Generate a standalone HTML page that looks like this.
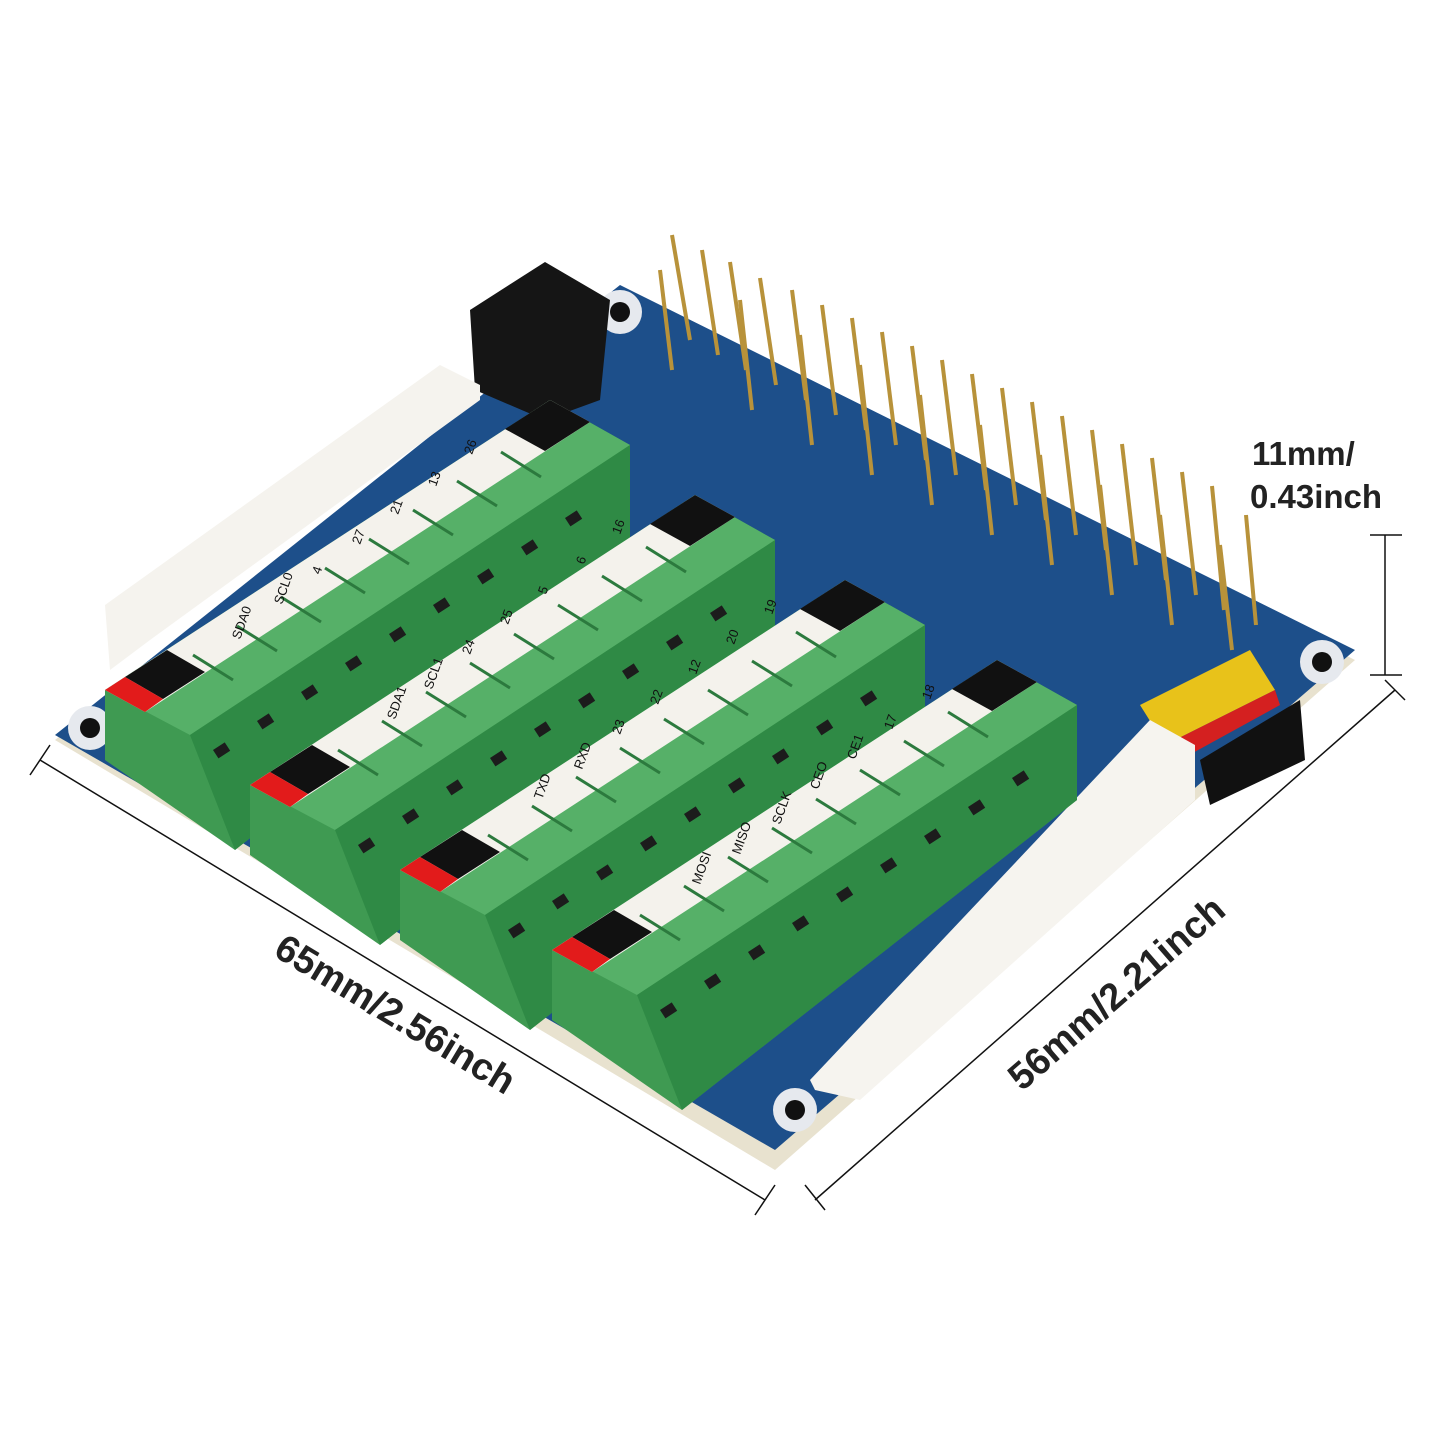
<!DOCTYPE html>
<html><head><meta charset="utf-8"><style>
html,body{margin:0;padding:0;background:#fff;}
svg{display:block;font-family:"Liberation Sans",Arial,sans-serif;}
</style></head><body>
<svg width="1445" height="1445" viewBox="0 0 1445 1445" xmlns="http://www.w3.org/2000/svg">
<defs>
<g id="strip">
  <polygon points="0,0 445,-290 525,-245 525,-150 130,160 0,70" fill="#3f9a52"/>
  <polygon points="0,0 445,-290 525,-245 85,45" fill="#56b068"/>
  <polygon points="0,0 445,-290 485,-268 40,22" fill="#f4f2ec"/>
  <polygon points="85,45 525,-245 525,-150 130,160" fill="#2f8a45"/>
  <g stroke="#2c7a3e" stroke-width="3">
    <line x1="88" y1="-35" x2="128" y2="-10"/><line x1="132" y1="-64" x2="172" y2="-39"/>
    <line x1="176" y1="-93" x2="216" y2="-68"/><line x1="220" y1="-122" x2="260" y2="-97"/>
    <line x1="264" y1="-151" x2="304" y2="-126"/><line x1="308" y1="-180" x2="348" y2="-155"/>
    <line x1="352" y1="-209" x2="392" y2="-184"/><line x1="396" y1="-238" x2="436" y2="-213"/>
  </g>
  <g fill="#1c1c1c">
    <rect x="108" y="60" width="14" height="10" transform="rotate(-33 108 60)"/>
    <rect x="152" y="31" width="14" height="10" transform="rotate(-33 152 31)"/>
    <rect x="196" y="2" width="14" height="10" transform="rotate(-33 196 2)"/>
    <rect x="240" y="-27" width="14" height="10" transform="rotate(-33 240 -27)"/>
    <rect x="284" y="-56" width="14" height="10" transform="rotate(-33 284 -56)"/>
    <rect x="328" y="-85" width="14" height="10" transform="rotate(-33 328 -85)"/>
    <rect x="372" y="-114" width="14" height="10" transform="rotate(-33 372 -114)"/>
    <rect x="416" y="-143" width="14" height="10" transform="rotate(-33 416 -143)"/>
    <rect x="460" y="-172" width="14" height="10" transform="rotate(-33 460 -172)"/>
  </g>
  <polygon points="400,-261 445,-290 485,-268 440,-239" fill="#111"/>
  <polygon points="20,-13 62,-40 100,-18 58,9" fill="#111"/>
  <polygon points="0,0 20,-13 58,9 40,22" fill="#e21b1b"/>
</g>
</defs>

<!-- board -->
<polygon points="55,740 620,290 1355,660 775,1170" fill="#e8e2cf"/>
<polygon points="55,735 620,285 1355,650 775,1150" fill="#1d4f8a"/>
<circle cx="620" cy="312" r="22" fill="#e6e9ee"/><circle cx="620" cy="312" r="10" fill="#111"/>
<circle cx="1322" cy="662" r="22" fill="#e6e9ee"/><circle cx="1322" cy="662" r="10" fill="#111"/>
<circle cx="90" cy="728" r="22" fill="#e6e9ee"/><circle cx="90" cy="728" r="10" fill="#111"/>
<circle cx="795" cy="1110" r="22" fill="#e6e9ee"/><circle cx="795" cy="1110" r="10" fill="#111"/>

<!-- header pins -->
<g stroke="#b8923a" stroke-width="4">
<line x1="672" y1="235" x2="690" y2="340"/><line x1="702" y1="250" x2="718" y2="355"/>
<line x1="730" y1="262" x2="746" y2="370"/><line x1="760" y1="278" x2="776" y2="385"/>
<line x1="792" y1="290" x2="806" y2="400"/><line x1="822" y1="305" x2="836" y2="415"/>
<line x1="852" y1="318" x2="866" y2="430"/><line x1="882" y1="332" x2="896" y2="445"/>
<line x1="912" y1="346" x2="926" y2="460"/><line x1="942" y1="360" x2="956" y2="475"/>
<line x1="972" y1="374" x2="986" y2="490"/><line x1="1002" y1="388" x2="1016" y2="505"/>
<line x1="1032" y1="402" x2="1046" y2="520"/><line x1="1062" y1="416" x2="1076" y2="535"/>
<line x1="1092" y1="430" x2="1106" y2="550"/><line x1="1122" y1="444" x2="1136" y2="565"/>
<line x1="1152" y1="458" x2="1166" y2="580"/><line x1="1182" y1="472" x2="1196" y2="595"/>
<line x1="1212" y1="486" x2="1224" y2="610"/><line x1="1246" y1="515" x2="1256" y2="625"/>
<line x1="660" y1="270" x2="672" y2="370"/><line x1="740" y1="300" x2="752" y2="410"/>
<line x1="800" y1="335" x2="812" y2="445"/><line x1="860" y1="365" x2="872" y2="475"/>
<line x1="920" y1="395" x2="932" y2="505"/><line x1="980" y1="425" x2="992" y2="535"/>
<line x1="1040" y1="455" x2="1052" y2="565"/><line x1="1100" y1="485" x2="1112" y2="595"/>
<line x1="1160" y1="515" x2="1172" y2="625"/><line x1="1220" y1="545" x2="1232" y2="650"/>
</g>
<!-- small pin header right -->
<polygon points="1140,705 1250,650 1275,690 1165,745" fill="#e8c21a"/>
<polygon points="1165,745 1275,690 1280,705 1180,760" fill="#d42020"/>
<polygon points="1200,760 1300,700 1305,760 1210,805" fill="#111"/>

<!-- black jumpers -->
<polygon points="470,310 545,262 610,300 600,400 545,420 475,390" fill="#151515"/>
<!-- left white connector -->
<polygon points="105,605 440,365 480,385 480,400 150,640 110,670" fill="#f5f3ee"/>
<!-- bottom right white connectors -->
<polygon points="810,1080 1150,720 1195,745 1195,800 860,1100 815,1090" fill="#f6f4ef"/>

<use href="#strip" transform="translate(105,690)"/>
<use href="#strip" transform="translate(250,785)"/>
<use href="#strip" transform="translate(400,870)"/>
<use href="#strip" transform="translate(552,950)"/>

<g font-size="13" fill="#111">
<text transform="translate(240,640) rotate(-70)">SDA0</text>
<text transform="translate(282,605) rotate(-70)">SCL0</text>
<text transform="translate(320,575) rotate(-70)">4</text>
<text transform="translate(360,545) rotate(-70)">27</text>
<text transform="translate(398,515) rotate(-70)">21</text>
<text transform="translate(436,487) rotate(-70)">13</text>
<text transform="translate(472,455) rotate(-70)">26</text>
<text transform="translate(395,720) rotate(-70)">SDA1</text>
<text transform="translate(432,690) rotate(-70)">SCL1</text>
<text transform="translate(470,655) rotate(-70)">24</text>
<text transform="translate(508,625) rotate(-70)">25</text>
<text transform="translate(546,595) rotate(-70)">5</text>
<text transform="translate(584,565) rotate(-70)">6</text>
<text transform="translate(620,535) rotate(-70)">16</text>
<text transform="translate(542,800) rotate(-70)">TXD</text>
<text transform="translate(582,770) rotate(-70)">RXD</text>
<text transform="translate(620,735) rotate(-70)">23</text>
<text transform="translate(658,705) rotate(-70)">22</text>
<text transform="translate(696,675) rotate(-70)">12</text>
<text transform="translate(734,645) rotate(-70)">20</text>
<text transform="translate(772,615) rotate(-70)">19</text>
<text transform="translate(700,885) rotate(-70)">MOSI</text>
<text transform="translate(740,855) rotate(-70)">MISO</text>
<text transform="translate(780,825) rotate(-70)">SCLK</text>
<text transform="translate(818,790) rotate(-70)">CEO</text>
<text transform="translate(855,760) rotate(-70)">CE1</text>
<text transform="translate(892,730) rotate(-70)">17</text>
<text transform="translate(930,700) rotate(-70)">18</text>
</g>

<!-- dimension lines -->
<g stroke="#111" stroke-width="1.5" fill="none">
<line x1="40" y1="760" x2="765" y2="1200"/>
<line x1="30" y1="775" x2="50" y2="745"/><line x1="755" y1="1215" x2="775" y2="1185"/>
<line x1="815" y1="1200" x2="1395" y2="690"/>
<line x1="805" y1="1185" x2="825" y2="1210"/><line x1="1385" y1="680" x2="1405" y2="700"/>
<line x1="1385" y1="535" x2="1385" y2="675"/>
<line x1="1370" y1="535" x2="1402" y2="535"/><line x1="1370" y1="675" x2="1402" y2="675"/>
</g>
<g font-size="38" fill="#222" font-weight="bold">
<text transform="translate(272,955) rotate(31)">65mm/2.56inch</text>
<text transform="translate(1022,1092) rotate(-41)">56mm/2.21inch</text>
<text x="1252" y="465" font-size="33">11mm/</text>
<text x="1250" y="508" font-size="33">0.43inch</text>
</g>
</svg>
</body></html>
